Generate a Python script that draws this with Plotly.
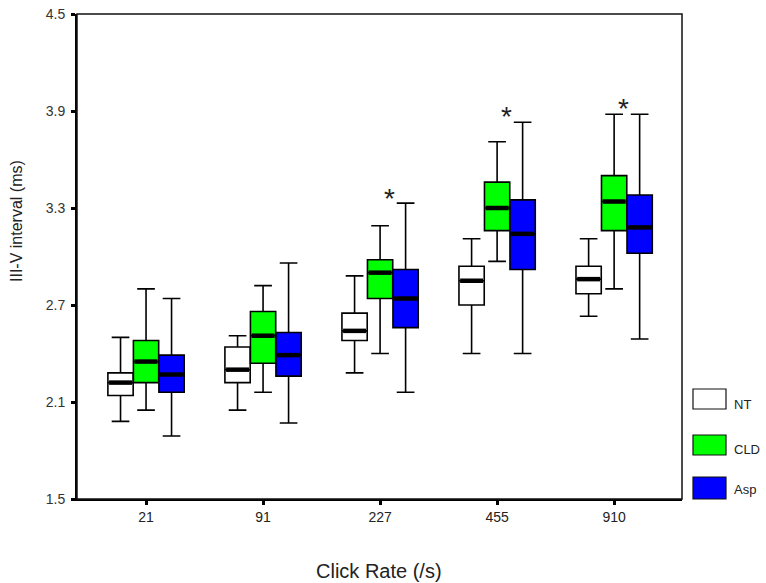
import plotly.graph_objects as go

categories = ["21", "91", "227", "455", "910"]

nt_upper = [2.50, 2.51, 2.88, 3.11, 3.11]
nt_q3 = [2.28, 2.44, 2.65, 2.94, 2.94]
nt_med = [2.22, 2.30, 2.54, 2.85, 2.86]
nt_q1 = [2.14, 2.22, 2.48, 2.70, 2.77]
nt_lower = [1.98, 2.05, 2.28, 2.40, 2.63]

cld_upper = [2.80, 2.82, 3.19, 3.71, 3.88]
cld_q3 = [2.48, 2.66, 2.98, 3.46, 3.50]
cld_med = [2.35, 2.51, 2.90, 3.30, 3.34]
cld_q1 = [2.22, 2.34, 2.74, 3.16, 3.16]
cld_lower = [2.05, 2.16, 2.40, 2.97, 2.80]

asp_upper = [2.74, 2.96, 3.33, 3.83, 3.88]
asp_q3 = [2.39, 2.53, 2.92, 3.35, 3.38]
asp_med = [2.27, 2.39, 2.74, 3.14, 3.18]
asp_q1 = [2.16, 2.26, 2.56, 2.92, 3.02]
asp_lower = [1.89, 1.97, 2.16, 2.40, 2.49]

star_cats = ["227", "455", "910"]
star_y = [3.40, 3.91, 3.96]

y_ticks = [1.5, 2.1, 2.7, 3.3, 3.9, 4.5]

series = [
    ("NT", "#ffffff", nt_lower, nt_q1, nt_med, nt_q3, nt_upper),
    ("CLD", "#00ff00", cld_lower, cld_q1, cld_med, cld_q3, cld_upper),
    ("Asp", "#0000ff", asp_lower, asp_q1, asp_med, asp_q3, asp_upper),
]

OFFSET = 0.218
BOXW = 0.216
FONT = "Liberation Sans, Arial, sans-serif"
TXT = "#222222"

fig = go.Figure()
idx = list(range(len(categories)))

for k, (name, color, lo, q1, med, q3, hi) in enumerate(series):
    off = (k - 1) * OFFSET
    xs = [i + off for i in idx]
    fig.add_trace(go.Box(
        name=name, x=xs, q1=q1, median=med, q3=q3,
        lowerfence=lo, upperfence=hi,
        width=BOXW, whiskerwidth=0.7,
        fillcolor=color, line=dict(color="#000000", width=1.6),
        boxpoints=False, showlegend=False, hoverinfo="skip",
    ))
    mx, my = [], []
    for i in idx:
        mx += [i + off - BOXW / 2 + 0.01, i + off + BOXW / 2 - 0.01, None]
        my += [med[i], med[i], None]
    fig.add_trace(go.Scatter(
        x=mx, y=my, mode="lines", line=dict(color="#000000", width=4.5),
        showlegend=False, hoverinfo="skip",
    ))

for c, yv in zip(star_cats, star_y):
    fig.add_annotation(
        x=categories.index(c) + 0.08, y=yv, xref="x", yref="y",
        text="*", showarrow=False, yanchor="middle",
        font=dict(family=FONT, size=28, color=TXT), yshift=-7,
    )

# frame (top/right thinner)
fig.add_shape(type="rect", xref="paper", yref="paper", x0=0, y0=0, x1=1, y1=1,
              line=dict(color="#111111", width=1.5), fillcolor="rgba(0,0,0,0)", layer="above")

# custom legend
PW, PH = 605.0, 485.0
def px_x(p):
    return (p - 77) / PW
def px_y(p):
    return (499 - p) / PH

legend_items = [("NT", "#ffffff", 389, 409, 404),
                ("CLD", "#00ff00", 435, 455, 449),
                ("Asp", "#0000ff", 477, 499, 489)]
for name, color, top, bot, ty in legend_items:
    fig.add_shape(type="rect", xref="paper", yref="paper",
                  x0=px_x(693), x1=px_x(726), y0=px_y(bot), y1=px_y(top),
                  line=dict(color="#111111", width=1.2), fillcolor=color)
    fig.add_annotation(x=px_x(732), y=px_y(ty), xref="paper", yref="paper",
                       text=name, showarrow=False, xanchor="left", yanchor="middle",
                       font=dict(family=FONT, size=13, color=TXT))

# axis titles as annotations
fig.add_annotation(x=px_x(16), y=px_y(221), xref="paper", yref="paper",
                   text="III-V interval (ms)", showarrow=False, textangle=-90,
                   xanchor="center", yanchor="middle",
                   font=dict(family=FONT, size=16, color=TXT))
fig.add_annotation(x=px_x(379), y=px_y(571), xref="paper", yref="paper",
                   text="Click Rate (/s)", showarrow=False,
                   xanchor="center", yanchor="middle",
                   font=dict(family=FONT, size=20, color=TXT))

fig.update_layout(
    width=766, height=583,
    margin=dict(l=77, r=84, t=14, b=84, autoexpand=False),
    paper_bgcolor="#ffffff", plot_bgcolor="#ffffff",
    showlegend=False,
    font=dict(family=FONT, color=TXT),
    xaxis=dict(
        range=[-0.59, 4.58], tickmode="array", tickvals=idx, ticktext=categories,
        showgrid=False, zeroline=False, showline=True, linecolor="#000000", linewidth=2,
        ticks="outside", ticklen=4, tickwidth=3, tickcolor="#000000",
        tickfont=dict(family=FONT, size=14, color=TXT), automargin=False,
    ),
    yaxis=dict(
        range=[1.5, 4.5], tickmode="array", tickvals=y_ticks,
        ticktext=[f"{v:.1f}" for v in y_ticks],
        showgrid=False, zeroline=False, showline=True, linecolor="#000000", linewidth=2,
        ticks="outside", ticklen=4, tickwidth=3, tickcolor="#000000",
        tickfont=dict(family=FONT, size=14, color="#333333"),
        ticklabelstandoff=3, automargin=False,
    ),
)

fig.write_html("out.html")
